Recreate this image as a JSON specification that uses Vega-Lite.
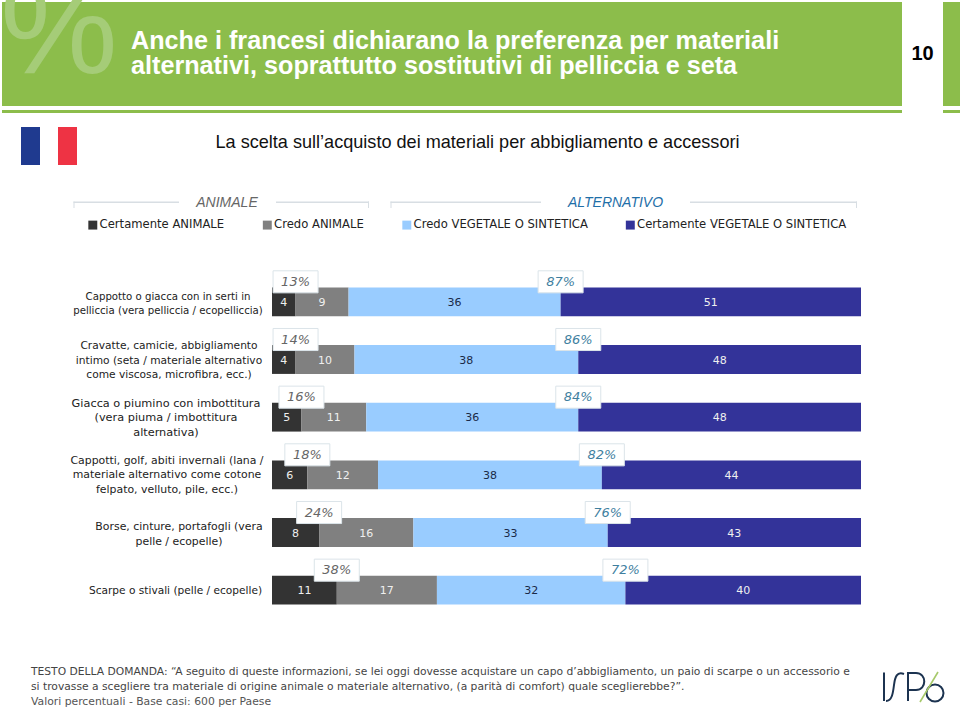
{
"$schema":"https://vega.github.io/schema/vega-lite/v6.json",
"width":589,"height":346,
"autosize":{"type":"none"},
"padding":{"left":272,"top":273,"right":99,"bottom":91},
"background":"white",
"config":{"view":{"stroke":null},"text":{"font":"DejaVu Sans"}},
"data":{"name":"main","values":[
{"cat":"Cappotto o giacca con in serti in|pelliccia (vera pelliccia / ecopelliccia)","r":0,"seg":"Certamente ANIMALE","ord":1,"value":4,"tot":"13%"},
{"cat":"Cappotto o giacca con in serti in|pelliccia (vera pelliccia / ecopelliccia)","r":0,"seg":"Credo ANIMALE","ord":2,"value":9},
{"cat":"Cappotto o giacca con in serti in|pelliccia (vera pelliccia / ecopelliccia)","r":0,"seg":"Credo VEGETALE O SINTETICA","ord":3,"value":36,"tot":"87%"},
{"cat":"Cappotto o giacca con in serti in|pelliccia (vera pelliccia / ecopelliccia)","r":0,"seg":"Certamente VEGETALE O SINTETICA","ord":4,"value":51},
{"cat":"Cravatte, camicie, abbigliamento|intimo (seta / materiale alternativo|come viscosa, microfibra, ecc.)","r":1,"seg":"Certamente ANIMALE","ord":1,"value":4,"tot":"14%"},
{"cat":"Cravatte, camicie, abbigliamento|intimo (seta / materiale alternativo|come viscosa, microfibra, ecc.)","r":1,"seg":"Credo ANIMALE","ord":2,"value":10},
{"cat":"Cravatte, camicie, abbigliamento|intimo (seta / materiale alternativo|come viscosa, microfibra, ecc.)","r":1,"seg":"Credo VEGETALE O SINTETICA","ord":3,"value":38,"tot":"86%"},
{"cat":"Cravatte, camicie, abbigliamento|intimo (seta / materiale alternativo|come viscosa, microfibra, ecc.)","r":1,"seg":"Certamente VEGETALE O SINTETICA","ord":4,"value":48},
{"cat":"Giacca o piumino con imbottitura|(vera piuma / imbottitura|alternativa)","r":2,"seg":"Certamente ANIMALE","ord":1,"value":5,"tot":"16%"},
{"cat":"Giacca o piumino con imbottitura|(vera piuma / imbottitura|alternativa)","r":2,"seg":"Credo ANIMALE","ord":2,"value":11},
{"cat":"Giacca o piumino con imbottitura|(vera piuma / imbottitura|alternativa)","r":2,"seg":"Credo VEGETALE O SINTETICA","ord":3,"value":36,"tot":"84%"},
{"cat":"Giacca o piumino con imbottitura|(vera piuma / imbottitura|alternativa)","r":2,"seg":"Certamente VEGETALE O SINTETICA","ord":4,"value":48},
{"cat":"Cappotti, golf, abiti invernali (lana /|materiale alternativo come cotone|felpato, velluto, pile, ecc.)","r":3,"seg":"Certamente ANIMALE","ord":1,"value":6,"tot":"18%"},
{"cat":"Cappotti, golf, abiti invernali (lana /|materiale alternativo come cotone|felpato, velluto, pile, ecc.)","r":3,"seg":"Credo ANIMALE","ord":2,"value":12},
{"cat":"Cappotti, golf, abiti invernali (lana /|materiale alternativo come cotone|felpato, velluto, pile, ecc.)","r":3,"seg":"Credo VEGETALE O SINTETICA","ord":3,"value":38,"tot":"82%"},
{"cat":"Cappotti, golf, abiti invernali (lana /|materiale alternativo come cotone|felpato, velluto, pile, ecc.)","r":3,"seg":"Certamente VEGETALE O SINTETICA","ord":4,"value":44},
{"cat":"Borse, cinture, portafogli (vera|pelle / ecopelle)","r":4,"seg":"Certamente ANIMALE","ord":1,"value":8,"tot":"24%"},
{"cat":"Borse, cinture, portafogli (vera|pelle / ecopelle)","r":4,"seg":"Credo ANIMALE","ord":2,"value":16},
{"cat":"Borse, cinture, portafogli (vera|pelle / ecopelle)","r":4,"seg":"Credo VEGETALE O SINTETICA","ord":3,"value":33,"tot":"76%"},
{"cat":"Borse, cinture, portafogli (vera|pelle / ecopelle)","r":4,"seg":"Certamente VEGETALE O SINTETICA","ord":4,"value":43},
{"cat":"Scarpe o stivali (pelle / ecopelle)","r":5,"seg":"Certamente ANIMALE","ord":1,"value":11,"tot":"38%"},
{"cat":"Scarpe o stivali (pelle / ecopelle)","r":5,"seg":"Credo ANIMALE","ord":2,"value":17},
{"cat":"Scarpe o stivali (pelle / ecopelle)","r":5,"seg":"Credo VEGETALE O SINTETICA","ord":3,"value":32,"tot":"72%"},
{"cat":"Scarpe o stivali (pelle / ecopelle)","r":5,"seg":"Certamente VEGETALE O SINTETICA","ord":4,"value":40}
]},
"transform":[{"stack":"value","groupby":["cat"],"sort":[{"field":"ord","order":"ascending"}],"as":["v0","v1"]}],
"layer":[
{"data":{"values":[{}]},"mark":{"type":"rect","x":-270,"y":-271,"x2":630,"y2":-167,"color":"#8cbd4b"},"encoding":{}},
{"data":{"values":[{}]},"mark":{"type":"rect","x":-270,"y":-163,"x2":630,"y2":-160,"color":"#8cbd4b"},"encoding":{}},
{"data":{"values":[{}]},"mark":{"type":"rect","x":671,"y":-271,"x2":688,"y2":-167,"color":"#8cbd4b"},"encoding":{}},
{"data":{"values":[{}]},"mark":{"type":"rect","x":671,"y":-163,"x2":688,"y2":-160,"color":"#8cbd4b"},"encoding":{}},
{"data":{"values":[{}]},"mark":{"type":"text","text":"%","x":-213,"y":-240,"fontSize":132,"font":"Liberation Sans","align":"center","baseline":"middle","color":"#a5cc78"},"encoding":{}},
{"data":{"values":[{}]},"mark":{"type":"text","text":"Anche i francesi dichiarano la preferenza per materiali\nalternativi, soprattutto sostitutivi di pelliccia e seta","lineBreak":"\n","lineHeight":25,"x":-141,"y":-232,"fontSize":25.2,"font":"Liberation Sans","fontWeight":"bold","align":"left","baseline":"middle","color":"#ffffff"},"encoding":{}},
{"data":{"values":[{}]},"mark":{"type":"text","text":"10","x":650.5,"y":-219,"fontSize":20,"font":"Liberation Sans","fontWeight":"bold","align":"center","baseline":"middle","color":"#000000"},"encoding":{}},
{"data":{"values":[{}]},"mark":{"type":"rect","x":-251,"y":-146,"x2":-232,"y2":-108,"color":"#1f3a8f"},"encoding":{}},
{"data":{"values":[{}]},"mark":{"type":"rect","x":-214,"y":-146,"x2":-195,"y2":-108,"color":"#ee3344"},"encoding":{}},
{"data":{"values":[{}]},"mark":{"type":"text","text":"La scelta sull’acquisto dei materiali per abbigliamento e accessori","x":205.5,"y":-130,"fontSize":18.1,"font":"Liberation Sans","align":"center","baseline":"middle","color":"#111111"},"encoding":{}},
{"data":{"values":[{}]},"mark":{"type":"rect","x":-198.5,"y":-71.5,"x2":-93,"y2":-70,"color":"#d8dee3"},"encoding":{}},
{"data":{"values":[{}]},"mark":{"type":"rect","x":4,"y":-71.5,"x2":97,"y2":-70,"color":"#d8dee3"},"encoding":{}},
{"data":{"values":[{}]},"mark":{"type":"rect","x":-198.5,"y":-71.5,"x2":-197.5,"y2":-65,"color":"#d8dee3"},"encoding":{}},
{"data":{"values":[{}]},"mark":{"type":"rect","x":96,"y":-71.5,"x2":97,"y2":-65,"color":"#d8dee3"},"encoding":{}},
{"data":{"values":[{}]},"mark":{"type":"rect","x":118.5,"y":-71.5,"x2":269,"y2":-70,"color":"#d8dee3"},"encoding":{}},
{"data":{"values":[{}]},"mark":{"type":"rect","x":418,"y":-71.5,"x2":585,"y2":-70,"color":"#d8dee3"},"encoding":{}},
{"data":{"values":[{}]},"mark":{"type":"rect","x":118.5,"y":-71.5,"x2":119.5,"y2":-65,"color":"#d8dee3"},"encoding":{}},
{"data":{"values":[{}]},"mark":{"type":"rect","x":584,"y":-71.5,"x2":585,"y2":-65,"color":"#d8dee3"},"encoding":{}},
{"data":{"values":[{}]},"mark":{"type":"text","text":"ANIMALE","x":-45,"y":-70.5,"fontSize":14,"font":"Liberation Sans","fontStyle":"italic","align":"center","baseline":"middle","color":"#666666"},"encoding":{}},
{"data":{"values":[{}]},"mark":{"type":"text","text":"ALTERNATIVO","x":343.5,"y":-70.5,"fontSize":14,"font":"Liberation Sans","fontStyle":"italic","align":"center","baseline":"middle","color":"#1f6fa8"},"encoding":{}},
{"mark":{"type":"bar"},
 "encoding":{
  "y":{"field":"cat","type":"nominal","sort":{"field":"r"},"axis":null,"scale":{"paddingInner":0.5,"paddingOuter":0.25}},
  "x":{"field":"v0","type":"quantitative","axis":null,"scale":{"domain":[0,100]}},
  "x2":{"field":"v1"},
  "color":{"field":"seg","type":"nominal","scale":{"domain":["Certamente ANIMALE","Credo ANIMALE","Credo VEGETALE O SINTETICA","Certamente VEGETALE O SINTETICA"],"range":["#333333","#808080","#99ccff","#333399"]},
   "legend":{"title":null,"orient":"none","direction":"horizontal","columns":4,"columnPadding":36.5,"legendX":-185,"legendY":-54,"symbolType":"square","symbolSize":80,"symbolStrokeWidth":0,"labelFont":"DejaVu Sans","labelFontSize":11.6,"labelColor":"#222222","labelOffset":1,"labelLimit":300}}
 }},
{"mark":{"type":"text","fontSize":11,"font":"DejaVu Sans","yOffset":1,"x":{"expr":"scale('x',(datum.v0+datum.v1)/2)"}},
 "encoding":{
  "y":{"field":"cat","type":"nominal","sort":{"field":"r"}},
  "text":{"field":"value","type":"quantitative"},
  "color":{"condition":{"test":"datum.ord==3","value":"#1a2a48"},"value":"#efefef"}
 }},
{"transform":[{"filter":"datum.ord==1||datum.ord==3"}],
 "mark":{"type":"point","filled":true,"fill":"#ffffff","stroke":"#dbe4e9","strokeWidth":1,"opacity":1,"shape":"M-1,-0.49H1V0.49H-1Z","size":2025,"yOffset":-20},
 "encoding":{
  "y":{"field":"cat","type":"nominal","sort":{"field":"r"}},
  "x":{"field":"v1","type":"quantitative"}
 }},
{"transform":[{"filter":"datum.ord==1||datum.ord==3"}],
 "mark":{"type":"text","fontSize":13,"font":"DejaVu Sans","fontStyle":"italic","yOffset":-20},
 "encoding":{
  "y":{"field":"cat","type":"nominal","sort":{"field":"r"}},
  "x":{"field":"v1","type":"quantitative"},
  "text":{"field":"tot"},
  "color":{"condition":{"test":"datum.ord==3","value":"#3f7f9f"},"value":"#666666"}
 }},
{"transform":[{"filter":"datum.ord==1"}],
 "mark":{"type":"text","font":"DejaVu Sans","color":"#222222","lineBreak":"|","lineHeight":14.6,"align":"center","baseline":"middle",
  "fontSize":{"expr":"[10.2,10.65,11.3,10.9,10.9,10.6][datum.r]"},
  "x":{"expr":"[-104,-103,-106,-105,-93,-96.5][datum.r]"},
  "yOffset":{"expr":"[-5,-13.5,-13.5,-14,-5.5,1][datum.r]"}},
 "encoding":{
  "y":{"field":"cat","type":"nominal","sort":{"field":"r"}},
  "text":{"field":"cat"}
 }},
{"data":{"values":[{}]},"mark":{"type":"text","text":"TESTO DELLA DOMANDA: “A seguito di queste informazioni, se lei oggi dovesse acquistare un capo d’abbigliamento, un paio di scarpe o un accessorio e\nsi trovasse a scegliere tra materiale di origine animale o materiale alternativo, (a parità di comfort) quale sceglierebbe?”.","lineBreak":"\n","lineHeight":14.5,"x":-241,"y":399,"fontSize":10.72,"font":"DejaVu Sans","align":"left","baseline":"middle","color":"#444444"},"encoding":{}},
{"data":{"values":[{}]},"mark":{"type":"text","text":"Valori percentuali - Base casi: 600 per Paese","x":-241,"y":429,"fontSize":10.8,"font":"DejaVu Sans","align":"left","baseline":"middle","color":"#555555"},"encoding":{}},
{"data":{"values":[{}]},"mark":{"type":"point","x":611,"y":414,"size":4,"opacity":1,"filled":false,"strokeWidth":2,"stroke":"#1c3350","shape":"M1,-14.5V14M21,-13C14,-16 12,-10 11,-2C10,6 9,14 3,14M25,14V-14H33C44,-14 44,3 33,3H25M43.5,6A8.5,8.5 0 1 0 60.5,6A8.5,8.5 0 1 0 43.5,6"},"encoding":{}},
{"data":{"values":[{}]},"mark":{"type":"point","x":611,"y":414,"size":4,"opacity":1,"filled":false,"strokeWidth":1.6,"stroke":"#a6c96a","shape":"M37,15L55,-15"},"encoding":{}}
]
}
